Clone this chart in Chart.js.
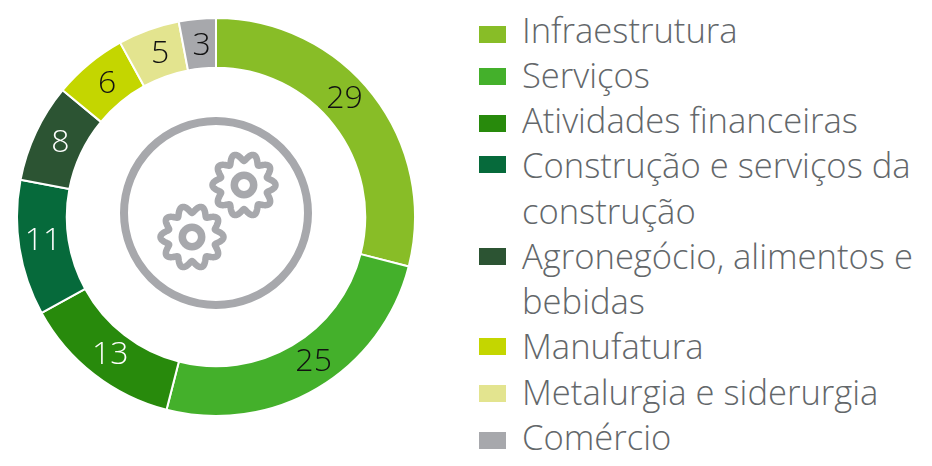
<!DOCTYPE html>
<html lang="pt">
<head>
    <meta charset="UTF-8">
    <title>Setores</title>
    <script src="https://cdn.jsdelivr.net/npm/chart.js"></script>
    <style>
        html, body { margin: 0; padding: 0; background: #fff; }
        body { position: relative; width: 932px; height: 466px; overflow: hidden; font-family: "Open Sans", sans-serif; }
        #wrap { position: absolute; left: 14px; top: 15px; width: 404px; height: 404px; }
        #legend { position: absolute; left: 479px; top: 6.5px; width: 453px; margin: 0; padding: 0; list-style: none; }
        #legend li { position: relative; padding-left: 43px; font-size: 34.6px; font-weight: 300; line-height: 45.25px; color: #63676a; white-space: pre; }
        #legend i { position: absolute; left: 0; width: 27px; height: 17px; }
    </style>
</head>
<body>
    <div id="wrap"><canvas id="sectorChart" width="404" height="404"></canvas></div>
    <ul id="legend"></ul>
    <script>
        const categories = ['Infraestrutura', 'Serviços', 'Atividades financeiras', 'Construção e serviços da\nconstrução', 'Agronegócio, alimentos e\nbebidas', 'Manufatura', 'Metalurgia e siderurgia', 'Comércio'];
        const values = [29, 25, 13, 11, 8, 6, 5, 3];
        const colors = ['#88bd27', '#44b02b', '#288a0c', '#066a3b', '#2c5433', '#c4d600', '#e3e48f', '#a7a8ac'];
        const labelColors = ['#111', '#111', '#fff', '#fff', '#fff', '#111', '#111', '#111'];
        // the two big labels sit off the middle of their slices
        const labelNudge = [[-9, -11], [9, -5], [1, 0], [-1, -3], [2, 0], [2, 1], [3, 1], [2, 2]];
        // the swatches are not quite even against their text rows
        const swatchTops = [19.5, 16, 17.5, 13.75, 15.25, 14.5, 16, 18.5];

        const legend = document.getElementById('legend');
        categories.forEach((name, i) => {
            const li = document.createElement('li');
            li.innerHTML = `<i style="background:${colors[i]};top:${swatchTops[i]}px"></i>`;
            li.appendChild(document.createTextNode(name));
            legend.appendChild(li);
        });

        function drawGear(ctx, cx, cy) {
            ctx.beginPath();
            for (let a = 0; a <= 360; a += 1) {
                const t = a * Math.PI / 180;
                const r = 24 + 7.5 * Math.pow(Math.abs(Math.cos(5 * t)), 1.5);
                const x = cx + r * Math.cos(t);
                const y = cy + r * Math.sin(t);
                if (a === 0) ctx.moveTo(x, y); else ctx.lineTo(x, y);
            }
            ctx.closePath();
            ctx.lineWidth = 6.5;
            ctx.stroke();
            ctx.beginPath();
            ctx.arc(cx, cy, 9.7, 0, Math.PI * 2);
            ctx.lineWidth = 7.5;
            ctx.stroke();
        }

        const centerIcon = {
            id: 'centerIcon',
            afterDraw(chart) {
                const ctx = chart.ctx;
                const meta = chart.getDatasetMeta(0).data[0];
                const ox = meta.x, oy = meta.y;
                ctx.save();
                ctx.strokeStyle = '#a7a8ac';
                ctx.lineJoin = 'round';
                ctx.beginPath();
                ctx.arc(ox, oy - 4, 92, 0, Math.PI * 2);
                ctx.lineWidth = 8;
                ctx.stroke();
                drawGear(ctx, ox + 28, oy - 32);
                drawGear(ctx, ox - 24, oy + 20);
                ctx.restore();
            }
        };

        const sliceLabels = {
            id: 'sliceLabels',
            afterDatasetsDraw(chart) {
                const ctx = chart.ctx;
                ctx.save();
                ctx.font = '300 32px "Open Sans"';
                ctx.textAlign = 'center';
                ctx.textBaseline = 'middle';
                chart.getDatasetMeta(0).data.forEach((arc, i) => {
                    const p = arc.tooltipPosition();
                    ctx.fillStyle = labelColors[i];
                    ctx.fillText(String(values[i]), p.x + labelNudge[i][0], p.y + labelNudge[i][1]);
                });
                ctx.restore();
            }
        };

        new Chart(document.getElementById('sectorChart'), {
            type: 'doughnut',
            data: {
                labels: categories,
                datasets: [{
                    data: values,
                    backgroundColor: colors,
                    borderColor: '#fff',
                    borderWidth: 2
                }]
            },
            options: {
                responsive: false,
                animation: false,
                cutout: '75%',
                layout: { padding: 2 },
                plugins: { legend: { display: false }, tooltip: { enabled: false } }
            },
            plugins: [sliceLabels, centerIcon]
        });
    </script>
</body>
</html>
